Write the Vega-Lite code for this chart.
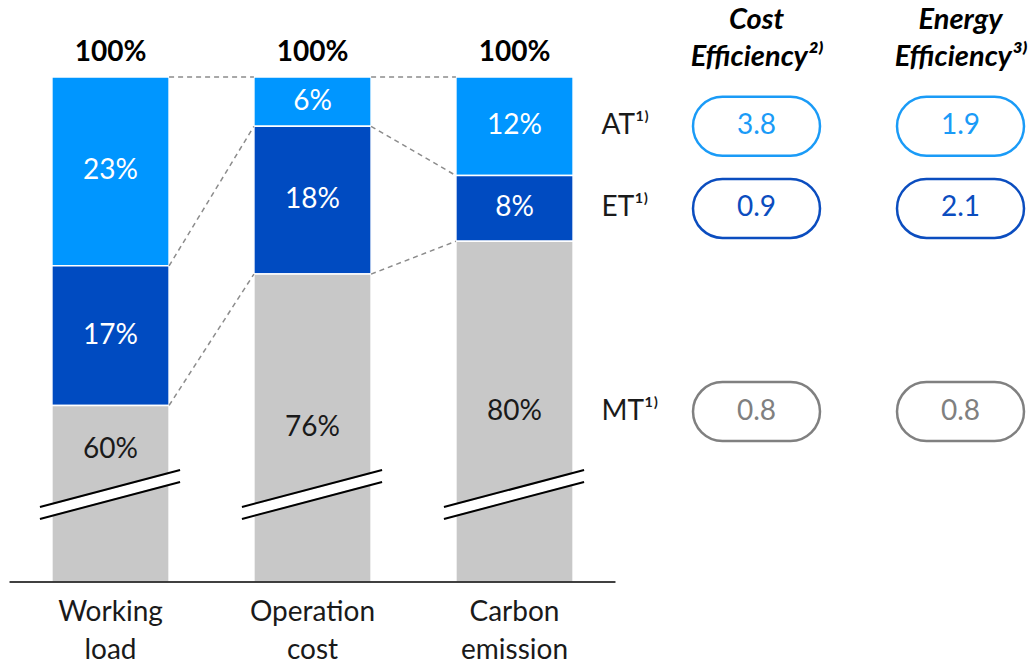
{
  "$schema": "https://vega.github.io/schema/vega-lite/v6.json",
  "width": 1035,
  "height": 665,
  "autosize": {"type": "fit", "contains": "padding"},
  "padding": 0,
  "background": "white",
  "config": {
    "view": {"stroke": null},
    "font": "Lato",
    "axis": {"disable": true},
    "legend": {"disable": true},
    "text": {"font": "Lato", "fontSize": 28}
  },
  "datasets": {
    "shares": [
      {"category": "Working load", "tier": "AT", "share": 23},
      {"category": "Working load", "tier": "ET", "share": 17},
      {"category": "Working load", "tier": "MT", "share": 60},
      {"category": "Operation cost", "tier": "AT", "share": 6},
      {"category": "Operation cost", "tier": "ET", "share": 18},
      {"category": "Operation cost", "tier": "MT", "share": 76},
      {"category": "Carbon emission", "tier": "AT", "share": 12},
      {"category": "Carbon emission", "tier": "ET", "share": 8},
      {"category": "Carbon emission", "tier": "MT", "share": 80}
    ],
    "efficiency": [
      {"tier": "AT", "Cost Efficiency": 3.8, "Energy Efficiency": 1.9},
      {"tier": "ET", "Cost Efficiency": 0.9, "Energy Efficiency": 2.1},
      {"tier": "MT", "Cost Efficiency": 0.8, "Energy Efficiency": 0.8}
    ],
    "headers": [
      {"metric": "Cost Efficiency", "note": "²⁾"},
      {"metric": "Energy Efficiency", "note": "³⁾"}
    ]
  },
  "layer": [
    {
      "data": {"name": "shares"},
      "transform": [
        {"stack": "share", "groupby": ["category"], "sort": [{"field": "tier", "order": "descending"}], "as": ["y0", "y1"]},
        {"calculate": "max(datum.y0, 38.5)", "as": "yb"},
        {"calculate": "datum.tier == 'MT' ? max((datum.yb + datum.y1) / 2, 54.6) : (datum.y0 + datum.y1) / 2", "as": "ymid"}
      ],
      "layer": [
        {
          "mark": {"type": "bar", "stroke": "white", "strokeWidth": 1.5},
          "encoding": {
            "x": {"field": "category", "type": "nominal", "axis": null,
                  "scale": {"domain": ["Working load", "Operation cost", "Carbon emission"], "range": [9.5, 615.5], "paddingInner": 0.42, "paddingOuter": 0.21}},
            "y": {"field": "y1", "type": "quantitative", "axis": null,
                  "scale": {"domain": [28.39, 109.38], "nice": false, "zero": false}},
            "y2": {"field": "yb"},
            "color": {"field": "tier", "type": "nominal", "legend": null,
                      "scale": {"domain": ["AT", "ET", "MT"], "range": ["#0096FF", "#004BC1", "#C8C8C8"]}}
          }
        },
        {
          "transform": [{"filter": "datum.tier == 'MT'"}],
          "mark": {"type": "rule", "color": "white", "strokeWidth": 10, "xOffset": -12, "x2Offset": 11},
          "encoding": {
            "x": {"field": "category", "type": "nominal", "bandPosition": 0},
            "x2": {"field": "category", "bandPosition": 1},
            "y": {"datum": 46.9},
            "y2": {"datum": 51.41}
          }
        },
        {
          "transform": [{"filter": "datum.tier == 'MT'"}],
          "mark": {"type": "rule", "color": "black", "strokeWidth": 2, "xOffset": -12, "x2Offset": 11},
          "encoding": {
            "x": {"field": "category", "type": "nominal", "bandPosition": 0},
            "x2": {"field": "category", "bandPosition": 1},
            "y": {"datum": 47.63},
            "y2": {"datum": 52.14}
          }
        },
        {
          "transform": [{"filter": "datum.tier == 'MT'"}],
          "mark": {"type": "rule", "color": "black", "strokeWidth": 2, "xOffset": -12, "x2Offset": 11},
          "encoding": {
            "x": {"field": "category", "type": "nominal", "bandPosition": 0},
            "x2": {"field": "category", "bandPosition": 1},
            "y": {"datum": 46.17},
            "y2": {"datum": 50.68}
          }
        },
        {
          "transform": [
            {"window": [{"op": "lead", "field": "category", "as": "next_cat"}, {"op": "lead", "field": "y1", "as": "next_y1"}],
             "groupby": ["tier"], "sort": [{"field": "category", "order": "descending"}]},
            {"filter": "datum.next_cat != null"}
          ],
          "mark": {"type": "rule", "color": "#8C8C8C", "strokeWidth": 1.5, "strokeDash": [5, 4]},
          "encoding": {
            "x": {"field": "category", "type": "nominal", "bandPosition": 1},
            "x2": {"field": "next_cat", "bandPosition": 0},
            "y": {"field": "y1", "type": "quantitative"},
            "y2": {"field": "next_y1"}
          }
        },
        {
          "transform": [{"calculate": "datum.share + '%'", "as": "label"}],
          "mark": {"type": "text", "fontSize": 28, "baseline": "middle"},
          "encoding": {
            "x": {"field": "category", "type": "nominal"},
            "y": {"field": "ymid", "type": "quantitative"},
            "text": {"field": "label"},
            "color": {"condition": {"test": "datum.tier == 'MT'", "value": "#1a1a1a"}, "value": "white"}
          }
        },
        {
          "transform": [
            {"aggregate": [{"op": "sum", "field": "share", "as": "total"}], "groupby": ["category"]},
            {"calculate": "datum.total + '%'", "as": "label"}
          ],
          "mark": {"type": "text", "fontSize": 28, "fontWeight": "bold", "baseline": "middle", "dy": -24, "color": "black"},
          "encoding": {
            "x": {"field": "category", "type": "nominal"},
            "y": {"field": "total", "type": "quantitative"},
            "text": {"field": "label"}
          }
        },
        {
          "transform": [{"filter": "datum.tier == 'MT' && datum.category == 'Working load'"}],
          "mark": {"type": "rule", "color": "black", "strokeWidth": 1.5, "xOffset": -42.4, "x2Offset": 42.4},
          "encoding": {
            "x": {"datum": "Working load", "bandPosition": 0},
            "x2": {"datum": "Carbon emission", "bandPosition": 1},
            "y": {"datum": 38.5}
          }
        },
        {
          "transform": [{"filter": "datum.tier == 'MT'"}],
          "mark": {"type": "text", "fontSize": 28, "baseline": "top", "dy": 17, "lineBreak": " ", "lineHeight": 38, "color": "#1a1a1a"},
          "encoding": {
            "x": {"field": "category", "type": "nominal"},
            "y": {"datum": 38.5},
            "text": {"field": "category"}
          }
        }
      ]
    },
    {
      "data": {"name": "shares"},
      "transform": [
        {"filter": "datum.category == 'Carbon emission'"},
        {"stack": "share", "groupby": ["category"], "sort": [{"field": "tier", "order": "descending"}], "as": ["y0", "y1"]},
        {"calculate": "max(datum.y0, 38.5)", "as": "yb"},
        {"calculate": "datum.tier == 'MT' ? max((datum.yb + datum.y1) / 2, 54.6) : (datum.y0 + datum.y1) / 2", "as": "ymid"},
        {"lookup": "tier", "from": {"data": {"name": "efficiency"}, "key": "tier", "fields": ["Cost Efficiency", "Energy Efficiency"]}}
      ],
      "layer": [
        {
          "transform": [{"calculate": "datum.tier + '¹⁾'", "as": "rowlabel"}],
          "mark": {"type": "text", "fontSize": 28, "align": "left", "baseline": "middle", "dx": -155, "color": "#1a1a1a"},
          "encoding": {
            "x": {"datum": "Cost Efficiency", "type": "nominal",
                  "scale": {"type": "point", "domain": ["Cost Efficiency", "Energy Efficiency"], "range": [756.5, 960.5], "padding": 0}},
            "y": {"field": "ymid", "type": "quantitative", "scale": {"domain": [28.39, 109.38], "nice": false, "zero": false}},
            "text": {"field": "rowlabel"}
          }
        },
        {
          "transform": [{"fold": ["Cost Efficiency", "Energy Efficiency"], "as": ["metric", "value"]}],
          "mark": {"type": "point", "shape": "M -0.5354 -0.4646 L 0.5354 -0.4646 C 0.7920 -0.4646 1 -0.2566 1 0 C 1 0.2566 0.7920 0.4646 0.5354 0.4646 L -0.5354 0.4646 C -0.7920 0.4646 -1 0.2566 -1 0 C -1 -0.2566 -0.7920 -0.4646 -0.5354 -0.4646 Z",
                   "size": 16129, "strokeWidth": 2.5, "fill": "white", "opacity": 1, "filled": false},
          "encoding": {
            "x": {"field": "metric", "type": "nominal"},
            "y": {"field": "ymid", "type": "quantitative"},
            "stroke": {"field": "tier", "type": "nominal", "legend": null,
                       "scale": {"domain": ["AT", "ET", "MT"], "range": ["#1A9BF7", "#0B4DBF", "#808080"]}}
          }
        },
        {
          "transform": [{"fold": ["Cost Efficiency", "Energy Efficiency"], "as": ["metric", "value"]}],
          "mark": {"type": "text", "fontSize": 28, "baseline": "middle"},
          "encoding": {
            "x": {"field": "metric", "type": "nominal"},
            "y": {"field": "ymid", "type": "quantitative"},
            "text": {"field": "value", "type": "quantitative", "format": ".1f"},
            "color": {"field": "tier", "type": "nominal", "legend": null,
                      "scale": {"domain": ["AT", "ET", "MT"], "range": ["#1A9BF7", "#0B4DBF", "#808080"]}}
          }
        },
        {
          "data": {"name": "headers"},
          "transform": [{"calculate": "datum.metric + datum.note", "as": "htext"}],
          "mark": {"type": "text", "fontSize": 29, "fontWeight": "bold", "fontStyle": "italic", "baseline": "alphabetic", "dy": -48, "lineBreak": " ", "lineHeight": 37, "color": "black"},
          "encoding": {
            "x": {"field": "metric", "type": "nominal"},
            "y": {"datum": 100},
            "text": {"field": "htext"}
          }
        }
      ]
    }
  ],
  "resolve": {"scale": {"x": "independent", "color": "independent"}}
}
